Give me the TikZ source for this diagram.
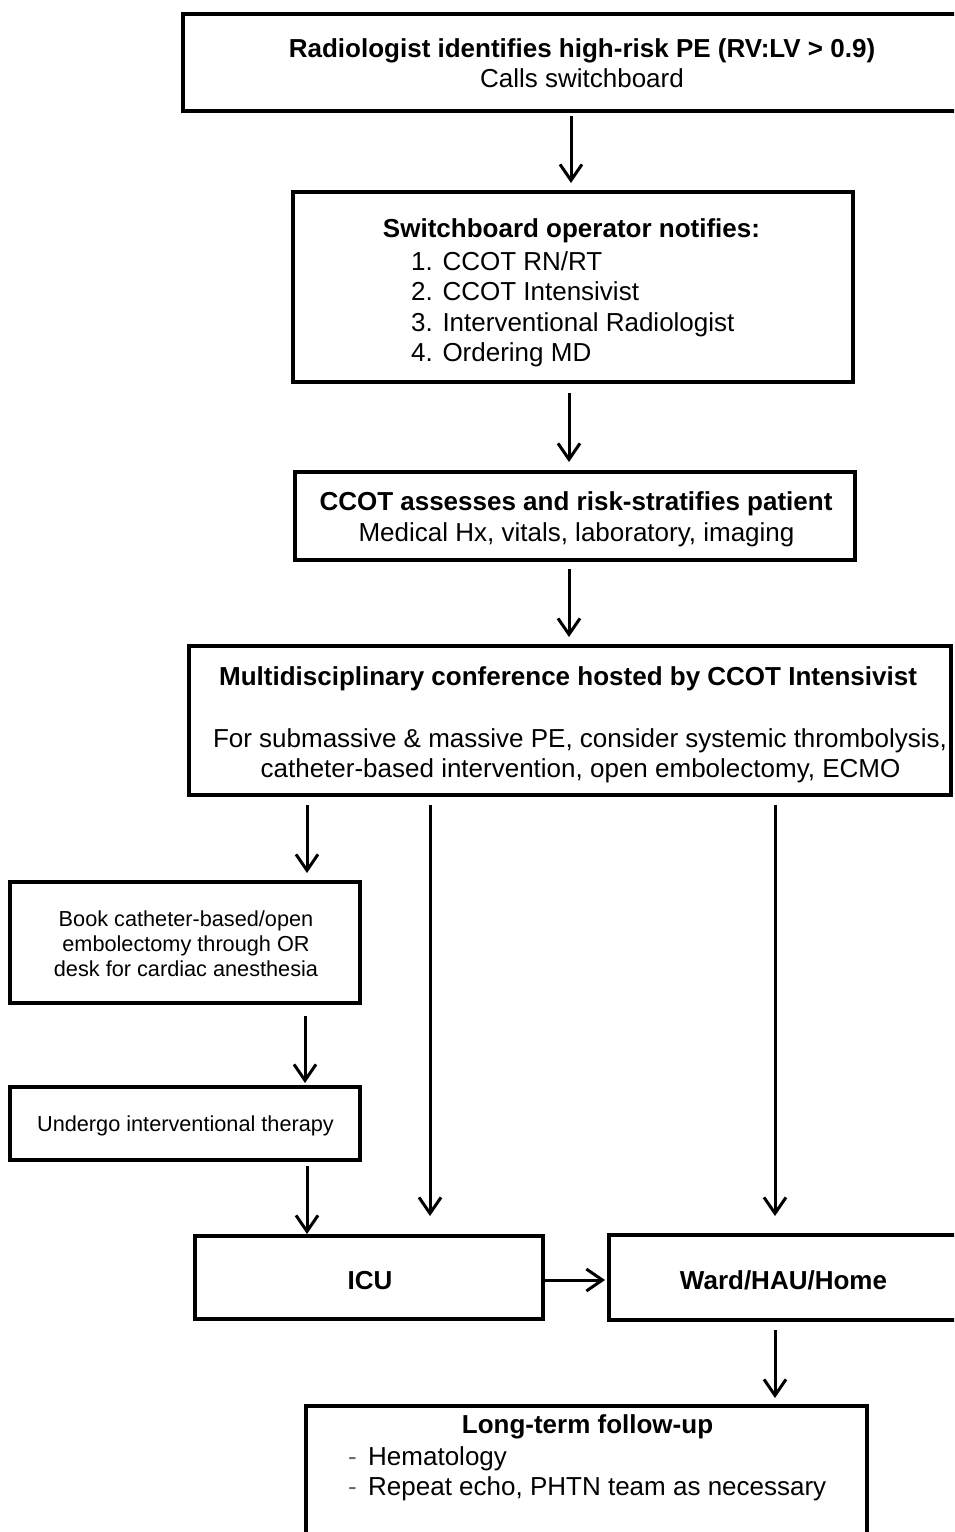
\documentclass[tikz,border=0pt]{standalone}
\usepackage{fontspec}
\setmainfont{Liberation Sans}
\usetikzlibrary{arrows.meta}
\begin{document}
\begin{tikzpicture}[x=1pt,y=-1pt,
 box/.style={draw, line width=3.5pt, rectangle, inner sep=0pt, outer sep=0pt, anchor=north west},
 txt/.style={inner sep=0pt, anchor=base, font=\fontsize{26}{30}\selectfont},
 btxt/.style={inner sep=0pt, anchor=base, font=\fontsize{26}{30}\selectfont\bfseries},
 stxt/.style={inner sep=0pt, anchor=base, font=\fontsize{21.7}{26}\selectfont},
 arr/.style={line width=3pt, -{Straight Barb[length=16pt,width=22pt]}}]
\useasboundingbox (0,0) rectangle (954,1532);
\fill[white] (0,0) rectangle (954,1532);
\clip (0,0) rectangle (954,1532);

% boxes
\node[box, minimum width=802pt, minimum height=97pt] (top) at (183,14) {};
\node[box, minimum width=560pt, minimum height=190pt] (switch) at (293,192) {};
\node[box, minimum width=560pt, minimum height=88pt] (ccot) at (295,472) {};
\node[box, minimum width=762pt, minimum height=149pt] (multi) at (189,646) {};
\node[box, minimum width=350pt, minimum height=121pt] (book) at (10,882) {};
\node[box, minimum width=350pt, minimum height=73pt] (undergo) at (10,1087) {};
\node[box, minimum width=348pt, minimum height=83pt] (icu) at (195,1236) {};
\node[box, minimum width=360pt, minimum height=85pt] (ward) at (609,1235) {};
\node[box, minimum width=561pt, minimum height=160pt] (long) at (306,1406) {};

% texts
\node[btxt] (t1a) at (582,57) {Radiologist identifies high-risk PE (RV:LV > 0.9)};
\node[txt] (t1b) at (582,87) {Calls switchboard};
\node[btxt] (s0) at (571.5,237) {Switchboard operator notifies:};
\node[txt, anchor=base west] (s1) at (411,270) {1. CCOT RN/RT};
\node[txt, anchor=base west] (s2) at (411,300) {2. CCOT Intensivist};
\node[txt, anchor=base west] (s3) at (411,331) {3. Interventional Radiologist};
\node[txt, anchor=base west] (s4) at (411,361) {4. Ordering MD};
\node[btxt] (c1) at (576,510) {CCOT assesses and risk-stratifies patient};
\node[txt] (c2) at (576.5,541) {Medical Hx, vitals, laboratory, imaging};
\node[btxt] (m1) at (568,685) {Multidisciplinary conference hosted by CCOT Intensivist};
\node[txt] (m2) at (580,747) {For submassive \& massive PE, consider systemic thrombolysis,};
\node[txt] (m3) at (580.5,777) {catheter-based intervention, open embolectomy, ECMO};
\node[stxt] (b1) at (186,926) {Book catheter-based/open};
\node[stxt] (b2) at (186,951) {embolectomy through OR};
\node[stxt] (b3) at (186,976) {desk for cardiac anesthesia};
\node[stxt] (u1) at (185.5,1131) {Undergo interventional therapy};
\node[btxt] (icut) at (370,1289) {ICU};
\node[btxt] (wardt) at (783.5,1289) {Ward/HAU/Home};
\node[btxt] (l0) at (587.5,1433) {Long-term follow-up};
\node[txt, anchor=base west, text=black!60] (l1d) at (348,1465) {-};
\node[txt, anchor=base west] (l1) at (368,1465) {Hematology};
\node[txt, anchor=base west, text=black!60] (l2d) at (348,1495) {-};
\node[txt, anchor=base west] (l2) at (368,1495) {Repeat echo, PHTN team as necessary};

% arrow guide coordinates
\coordinate (xa) at (571,0);
\coordinate (xb) at (569,0);
\coordinate (xc) at (307,0);
\coordinate (xd) at (430,0);
\coordinate (xe) at (775,0);
\coordinate (xf) at (305,0);
\coordinate (ya) at (0,1280);

% arrows
\draw[arr, shorten <=5pt, shorten >=9pt] (top.south -| xa) -- (switch.north -| xa);
\draw[arr, shorten <=11pt, shorten >=10pt] (switch.south -| xb) -- (ccot.north -| xb);
\draw[arr, shorten <=9pt, shorten >=9pt] (ccot.south -| xb) -- (multi.north -| xb);
\draw[arr, shorten <=10pt, shorten >=9pt] (multi.south -| xc) -- (book.north -| xc);
\draw[arr, shorten <=10pt, shorten >=20pt] (multi.south -| xd) -- (icu.north -| xd);
\draw[arr, shorten <=10pt, shorten >=19pt] (multi.south -| xe) -- (ward.north -| xe);
\draw[arr, shorten <=13pt, shorten >=4pt] (book.south -| xf) -- (undergo.north -| xf);
\draw[arr, shorten <=6pt, shorten >=2pt] (undergo.south -| xc) -- (icu.north -| xc);
\draw[arr, shorten <=1pt, shorten >=4pt] (icu.east |- ya) -- (ward.west |- ya);
\draw[arr, shorten <=10pt, shorten >=8pt] (ward.south -| xe) -- (long.north -| xe);
\end{tikzpicture}
\end{document}
